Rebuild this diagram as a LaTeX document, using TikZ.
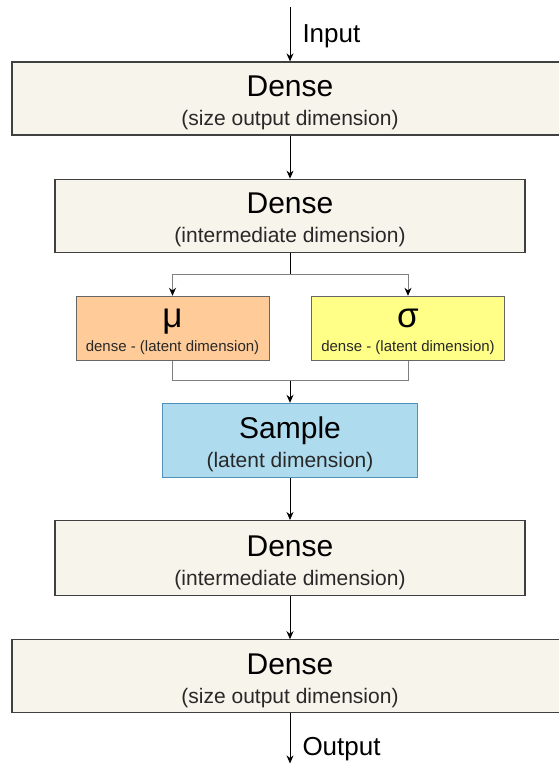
\documentclass[tikz,border=0pt]{standalone}
\usepackage{fontspec}
\setmainfont{Liberation Sans}
\usetikzlibrary{arrows.meta, positioning}
\definecolor{layerbg}{RGB}{247, 244, 236}
\definecolor{layerborder}{RGB}{64, 64, 64}
\definecolor{mubg}{RGB}{255, 204, 153}
\definecolor{sigmabg}{RGB}{255, 255, 136}
\definecolor{samplebg}{RGB}{174, 220, 238}
\definecolor{sampleborder}{RGB}{80, 145, 185}
\definecolor{linkgray}{RGB}{128, 128, 128}
\definecolor{subtext}{RGB}{40, 40, 40}
\newcommand{\layertitle}[1]{{\color{black}\fontsize{30}{30}\selectfont\rule{0pt}{29.4pt}#1}}
\newcommand{\latenttitle}[1]{{\color{black}\fontsize{35}{35}\selectfont\rule{0pt}{25.2pt}#1}}
\tikzstyle{layer} = [rectangle, draw=layerborder, fill=layerbg, line width=1.2pt, align=center, minimum height=73pt, inner sep=0pt, text=subtext, font=\fontsize{21}{25}\selectfont]
\tikzstyle{latent} = [rectangle, draw=layerborder!80, line width=1pt, align=center, minimum width=193pt, minimum height=64pt, inner sep=0pt, text=subtext, font=\fontsize{15}{24}\selectfont]
\tikzstyle{arrow} = [line width=1pt, -{Stealth[length=8pt, width=7pt]}]
\tikzstyle{branch} = [line width=1pt, color=linkgray]
\tikzstyle{ioname} = [right=12pt, inner sep=0pt, font=\fontsize{26}{26}\selectfont]

\begin{document}
\begin{tikzpicture}
    \useasboundingbox (0pt,0pt) rectangle (558pt,-765pt);
    % Nodes
    \node (dense1) [layer, minimum width=556pt] at (290pt,-98.5pt) {\layertitle{Dense}\\[4pt](size output dimension)};
    \node (dense2) [layer, minimum width=470pt, below=43pt of dense1] {\layertitle{Dense}\\[4pt](intermediate dimension)};
    \node (mu) [latent, fill=mubg, below=43pt of dense2, xshift=-117.5pt] {\latenttitle{μ}\\dense - (latent dimension)};
    \node (sigma) [latent, fill=sigmabg, below=43pt of dense2, xshift=118pt] {\latenttitle{σ}\\dense - (latent dimension)};
    \node (sample) [layer, draw=sampleborder, fill=samplebg, minimum width=255pt, minimum height=74pt, below=42pt of mu, xshift=117.5pt] {\layertitle{Sample}\\[4pt](latent dimension)};
    \node (dense3) [layer, minimum width=470pt, minimum height=75pt, below=42pt of sample] {\layertitle{Dense}\\[4pt](intermediate dimension)};
    \node (dense4) [layer, minimum width=556pt, below=43pt of dense3] {\layertitle{Dense}\\[4pt](size output dimension)};
    \coordinate (input) at (290pt,-7.5pt);
    \coordinate [below=50pt of dense4] (output);
    \coordinate [below=22pt of dense2] (split);
    \coordinate [above=22pt of sample] (join);

    % Arrows
    \draw [arrow] (input) -- node[ioname, pos=0.53] {Input} (dense1);
    \draw [arrow] (dense1) -- (dense2);
    \draw [line width=1pt] (dense2) -- (split);
    \draw [branch, -{Stealth[length=8pt, width=7pt, color=black]}] (split) -| (mu);
    \draw [branch, -{Stealth[length=8pt, width=7pt, color=black]}] (split) -| (sigma);
    \draw [branch] (mu) |- (join) -| (sigma);
    \draw [arrow] (join) -- (sample);
    \draw [arrow] (sample) -- (dense3);
    \draw [arrow] (dense3) -- (dense4);
    \draw [arrow] (dense4) -- node[ioname, pos=0.72] {Output} (output);
\end{tikzpicture}
\end{document}
